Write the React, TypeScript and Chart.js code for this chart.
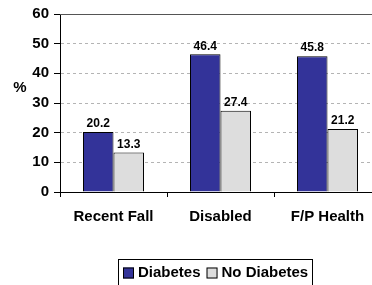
import React, { useEffect, useRef } from "react";
import { Chart, registerables } from "chart.js";

Chart.register(...registerables);

const categories = ["Recent Fall", "Disabled", "F/P Health"];
const diabetes = [20.2, 46.4, 45.8];
const noDiabetes = [13.3, 27.4, 21.2];
const seriesNames = ["Diabetes", "No Diabetes"];
const yTicks = [0, 10, 20, 30, 40, 50, 60];
const yTitle = "%";

const FONT = "Arial, 'Liberation Sans', sans-serif";

const extrasPlugin = {
  id: "extras",
  afterDraw(chart: any) {
    const { ctx, chartArea } = chart;
    ctx.save();
    // top border line
    ctx.strokeStyle = "#555555";
    ctx.lineWidth = 1;
    ctx.beginPath();
    ctx.moveTo(chartArea.left, Math.round(chartArea.top) + 0.5);
    ctx.lineTo(chart.width, Math.round(chartArea.top) + 0.5);
    ctx.stroke();

    // y title
    ctx.fillStyle = "#000";
    ctx.font = `bold 15px ${FONT}`;
    ctx.textAlign = "center";
    ctx.textBaseline = "middle";
    ctx.fillText(yTitle, 20, 88);

    // data labels
    ctx.font = `bold 12px ${FONT}`;
    ctx.textBaseline = "bottom";
    chart.data.datasets.forEach((ds: any, di: number) => {
      const meta = chart.getDatasetMeta(di);
      meta.data.forEach((bar: any, i: number) => {
        ctx.fillText(String(ds.data[i]), bar.x, bar.y - 2);
      });
    });

    // legend
    const boxL = 118, boxT = 259;
    ctx.strokeStyle = "#000";
    ctx.strokeRect(boxL + 0.5, boxT + 0.5, 194, 30);
    ctx.font = `bold 15px ${FONT}`;
    ctx.textAlign = "left";
    ctx.textBaseline = "middle";
    let x = 123;
    const cy = 273;
    chart.data.datasets.forEach((ds: any) => {
      ctx.fillStyle = ds.backgroundColor;
      ctx.fillRect(x, cy - 5.5, 11, 11);
      ctx.strokeStyle = "#000";
      ctx.strokeRect(x + 0.5, cy - 5, 10, 10);
      ctx.fillStyle = "#000";
      ctx.fillText(ds.label, x + 15, cy);
      x += 15 + ctx.measureText(ds.label).width + 6;
    });
    ctx.restore();
  },
};

export default function App() {
  const ref = useRef<HTMLCanvasElement>(null);
  useEffect(() => {
    if (!ref.current) return;
    const chart = new Chart(ref.current, {
      type: "bar",
      data: {
        labels: categories,
        datasets: [
          {
            label: seriesNames[0],
            data: diabetes,
            backgroundColor: "#333399",
            borderColor: "#000000",
            borderWidth: 1,
          },
          {
            label: seriesNames[1],
            data: noDiabetes,
            backgroundColor: "#DDDDDD",
            borderColor: "#000000",
            borderWidth: 1,
          },
        ],
      },
      options: {
        responsive: false,
        animation: false,
        devicePixelRatio: 1,
        layout: { padding: { left: 0, right: 19, top: 12, bottom: 63 } },
        plugins: { legend: { display: false }, tooltip: { enabled: false } },
        datasets: { bar: { categoryPercentage: 0.57, barPercentage: 1 } },
        scales: {
          x: {
            grid: {
              offset: true,
              drawOnChartArea: false,
              drawTicks: true,
              tickLength: 5,
              tickColor: "#000",
            },
            border: { color: "#000", width: 1 },
            ticks: {
              color: "#000",
              font: { family: FONT, size: 15, weight: "bold" },
              padding: 11,
              maxRotation: 0,
            },
            afterFit: (s: any) => {
              s.height = 30;
            },
          },
          y: {
            min: yTicks[0],
            max: yTicks[yTicks.length - 1],
            afterBuildTicks: (s: any) => {
              s.ticks = yTicks.map((v) => ({ value: v }));
            },
            grid: {
              color: (c: any) =>
                c.tick && (c.tick.value === 0 || c.tick.value === 60) ? "rgba(0,0,0,0)" : "#b4b4b4",
              tickLength: 6,
              tickColor: "#000",
            },
            border: { color: "#000", width: 1, dash: [3, 3] },
            ticks: {
              color: "#000",
              font: { family: FONT, size: 15, weight: "bold" },
              padding: 5,
            },
            afterFit: (s: any) => {
              s.width = 60;
            },
          },
        },
      },
      plugins: [extrasPlugin],
    });
    return () => chart.destroy();
  }, []);
  return (
    <div style={{ position: "fixed", left: 0, top: 0, width: 372, height: 285, overflow: "hidden", background: "#fff" }}>
      <canvas ref={ref} width={400} height={285} style={{ display: "block" }} />
    </div>
  );
}
